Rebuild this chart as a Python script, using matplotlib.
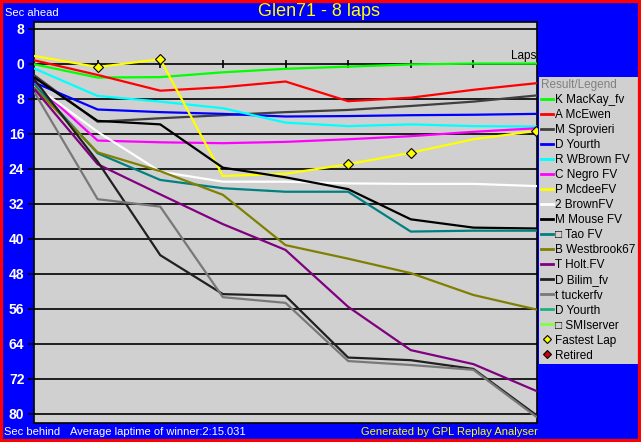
import matplotlib
matplotlib.use("Agg")
import matplotlib.pyplot as plt
from matplotlib.lines import Line2D
from matplotlib.patches import Rectangle

plt.rcParams['font.family'] = ['Liberation Sans', 'DejaVu Sans']

laps = [0, 1, 2, 3, 4, 5, 6, 7, 8]

drivers = ["K MacKay_fv", "A McEwen", "M Sprovieri", "D Yourth", "R WBrown FV",
           "C Negro FV", "P McdeeFV", "2 BrownFV", "M Mouse FV", "□ Tao FV",
           "B Westbrook67", "T Holt.FV", "D Bilim_fv", "t tuckerfv", "D Yourth",
           "□ SMIserver"]
colors = ["#00ff00", "#ff0000", "#404040", "#0000ff", "#00ffff", "#ff00ff",
          "#ffff00", "#ffffff", "#000000", "#008080", "#808000", "#800080",
          "#202020", "#787878", "#20b080", "#80ff40"]

mackay = [0.1, 3.1, 3.0, 1.9, 1.1, 0.6, 0.1, -0.1, -0.1]
mcewen = [-0.8, 2.5, 6.1, 5.3, 4.0, 8.5, 7.7, 5.9, 4.4]
sprovieri = [2.7, 13.2, 12.4, 11.7, 11.0, 10.5, 9.6, 8.6, 7.2]
yourth = [4.3, 10.4, 11.0, 11.4, 12.0, 11.9, 11.7, 11.6, 11.4]
wbrown = [1.1, 7.3, 8.6, 10.1, 13.4, 14.2, 13.8, 14.2, 14.3]
negro = [4.6, 17.5, 17.9, 18.1, 17.8, 17.2, 16.5, 15.5, 14.7]
mcdee = [-1.8, 0.7, -1.1, 25.6, 25.1, 22.9, 20.3, 17.2, 15.3]
brown2 = [5.0, 15.5, 24.6, 26.9, 26.9, 27.3, 27.4, 27.4, 27.9]
mouse = [3.2, 13.0, 13.8, 23.7, 25.9, 28.6, 35.5, 37.4, 37.6]
tao = [4.8, 20.4, 26.5, 28.4, 29.2, 29.2, 38.3, 38.1, 38.1]
westbrook = [5.6, 20.2, 24.5, 29.9, 41.4, 44.5, 47.8, 52.8, 56.1]
holt = [5.9, 22.9, 29.8, 36.6, 42.5, 55.5, 65.4, 68.6, 74.7]
bilim = [3.7, 22.3, 43.7, 52.6, 53.0, 67.1, 67.7, 69.7, 80.2]
tucker = [6.7, 30.9, 32.6, 53.3, 54.6, 67.9, 68.8, 69.9, 80.6]
yourth2 = []
smiserver = []

series = [mackay, mcewen, sprovieri, yourth, wbrown, negro, mcdee, brown2,
          mouse, tao, westbrook, holt, bilim, tucker, yourth2, smiserver]

fastest_laps = [1, 2, 5, 6, 8]
fastest_vals = [mcdee[l] for l in fastest_laps]

yticks = [-8, 0, 8, 16, 24, 32, 40, 48, 56, 64, 72, 80]
ytick_labels = ["8", "0", "8", "16", "24", "32", "40", "48", "56", "64", "72", "80"]

W, H = 641, 442
fig = plt.figure(figsize=(W / 100, H / 100), dpi=100, facecolor="#0000ff")
fig.patches.append(Rectangle((0, 0), 1, 1, transform=fig.transFigure,
                             fill=False, edgecolor="#ff0000", linewidth=4.5,
                             zorder=10))

L, R, T, B = 34, 537, 22, 423
ax = fig.add_axes([L / W, 1 - B / H, (R - L) / W, (B - T) / H])
ax.set_facecolor("#d0d0d0")
for s in ax.spines.values():
    s.set_color("black")
    s.set_linewidth(1.2)

for y in yticks:
    ax.axhline(y, color="black", linewidth=1.2, zorder=1)

for name, col, vals in zip(drivers, colors, series):
    if vals:
        ax.plot(laps[:len(vals)], vals, color=col, linewidth=1.6, zorder=3)

# lap ticks on zero line
ax.plot(laps[1:-1], [0] * (len(laps) - 2), linestyle="none", marker="|",
        markersize=6, markeredgewidth=1.2, color="black", zorder=2)

ax.plot(fastest_laps, fastest_vals, linestyle="none", marker="D", markersize=5,
        markerfacecolor="#ffff00", markeredgecolor="black", markeredgewidth=0.8,
        zorder=5)

ax.set_xlim(-0.016, 8.016)
ax.set_ylim(82.06, -9.6)
ax.set_xticks([])
ax.set_yticks(yticks)
ax.set_yticklabels(ytick_labels, fontsize=10, fontweight="bold", color="white")
ax.tick_params(axis="y", length=4, width=1.2, color="black", pad=3)

ax.text(8, -0.5, "Laps", ha="right", va="bottom", fontsize=8.5, color="black")

fig.text(319 / W, 1 - 12 / H, "Glen71 - 8 laps", ha="center", va="center",
         fontsize=13, color="#ffff00")
fig.text(5 / W, 1 - 13 / H, "Sec ahead", ha="left", va="center",
         fontsize=8, color="white")
fig.text(4 / W, 1 - 432 / H, "Sec behind", ha="left", va="center",
         fontsize=8, color="white")
fig.text(70 / W, 1 - 432 / H, "Average laptime of winner:2:15.031", ha="left",
         va="center", fontsize=8, color="white")
fig.text(538 / W, 1 - 432 / H, "Generated by GPL Replay Analyser", ha="right",
         va="center", fontsize=8, color="#ffff00")

handles = [Line2D([], [], color=c, linewidth=2) for c in colors]
labels = list(drivers)
handles.append(Line2D([], [], linestyle="none", marker="D", markersize=4.5,
                      markerfacecolor="#ffff00", markeredgecolor="black",
                      markeredgewidth=0.8))
labels.append("Fastest Lap")
handles.append(Line2D([], [], linestyle="none", marker="D", markersize=4.5,
                      markerfacecolor="#d00000", markeredgecolor="black",
                      markeredgewidth=0.8))
labels.append("Retired")

leg = fig.legend(handles, labels, loc="upper left",
                 bbox_to_anchor=(539 / W, 1 - 77 / H),
                 bbox_transform=fig.transFigure,
                 title="Result/Legend", title_fontsize=8.5, fontsize=8.5,
                 frameon=True, fancybox=False, facecolor="#d0d0d0",
                 edgecolor="#d0d0d0", framealpha=1, borderpad=0.2,
                 labelspacing=0.255, handlelength=1.0, handletextpad=0.15,
                 borderaxespad=0, alignment="left")
leg.get_title().set_color("#808080")
leg.get_frame().set_linewidth(0)

fig.savefig("out.png", dpi=100, facecolor=fig.get_facecolor())
